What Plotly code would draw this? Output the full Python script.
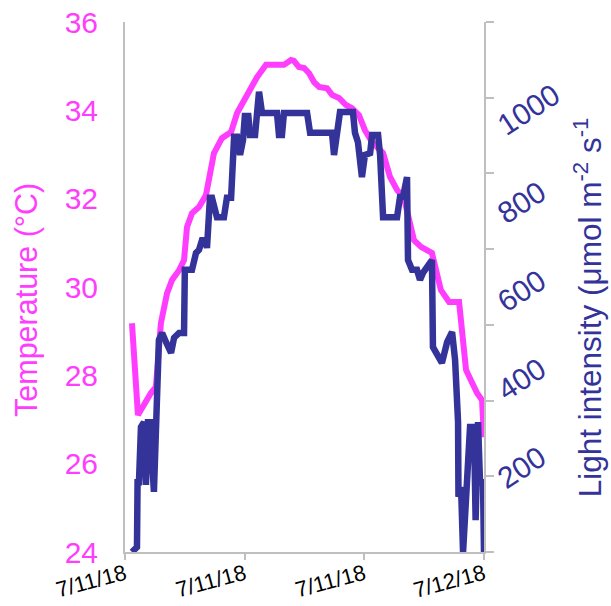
import plotly.graph_objects as go
from datetime import datetime, timedelta

# ---- data ----
x_tick_hours = [6, 12, 18, 24]
x_tick_labels = ["7/11/18", "7/11/18", "7/11/18", "7/12/18"]

temp_hours = [6.35, 6.65, 7.30, 7.55, 7.80, 8.11, 8.36, 8.71, 8.96, 9.11, 9.36, 9.71,
              10.06, 10.31, 10.46, 10.86, 11.32, 11.62, 11.97, 12.32, 12.62, 13.07,
              13.97, 14.32, 14.47, 14.72, 14.98, 15.23, 15.48, 15.73, 16.13, 16.38,
              16.73, 17.08, 17.38, 17.73, 18.03, 18.39, 18.94, 19.29, 19.64, 19.99,
              20.49, 20.84, 21.39, 21.84, 22.25, 22.75, 23.10, 23.65, 23.90, 24.00]
temp_c = [29.18, 27.10, 27.60, 27.74, 29.18, 29.86, 30.16, 30.38, 30.61, 31.36, 31.67, 31.81,
          32.08, 32.58, 33.03, 33.37, 33.51, 33.94, 34.23, 34.57, 34.75, 35.03,
          35.03, 35.14, 35.12, 34.98, 34.96, 34.84, 34.64, 34.53, 34.50, 34.35,
          34.28, 34.12, 34.05, 33.89, 33.55, 33.28, 33.03, 32.49, 32.20, 32.01,
          31.06, 30.91, 30.77, 29.93, 29.66, 29.66, 28.12, 27.60, 27.44, 26.60]

light_hours = [6.35, 6.60, 6.63, 6.70, 6.80, 6.95, 7.05, 7.15, 7.25, 7.45, 7.70, 7.86,
               8.06, 8.31, 8.46, 8.71, 8.96, 9.00, 9.36, 9.56, 9.71, 9.86, 10.06, 10.11,
               10.26, 10.36, 10.61, 10.96, 11.11, 11.32, 11.47, 11.62, 11.77, 11.92,
               12.02, 12.10, 12.17, 12.27, 12.52, 12.72, 12.87, 13.62, 13.72, 13.87,
               13.97, 15.13, 15.28, 16.38, 16.48, 16.63, 16.78, 17.43, 17.53, 17.68,
               17.88, 18.03, 18.29, 18.39, 18.69, 18.79, 18.94, 19.64, 19.79, 19.94,
               20.14, 20.19, 20.39, 20.64, 20.79, 20.94, 21.39, 21.44, 21.64, 21.89,
               22.15, 22.40, 22.55, 22.70, 22.72, 22.85, 22.95, 23.15, 23.30, 23.50,
               23.58, 23.70, 23.80, 23.95, 24.00]
light_umol = [0, 11, 158, 158, 283, 294, 152, 294, 294, 136, 480, 496,
              475, 451, 485, 496, 496, 639, 639, 677, 684, 706, 706, 688,
              802, 802, 758, 758, 802, 802, 940, 940, 899, 933,
              994, 944, 994, 944, 944, 1042, 994, 994, 944, 944,
              994, 994, 949, 949, 899, 949, 996, 996, 949, 928,
              849, 899, 903, 944, 944, 899, 758, 758, 804, 804,
              849, 661, 639, 639, 616, 632, 661, 464, 446, 428,
              475, 498, 435, 294, 125, 147, 0, 147, 283, 283,
              72, 294, 158, 158, 0]

temp_ticks = [24, 26, 28, 30, 32, 34, 36]
light_ticks = [200, 400, 600, 800, 1000]

# ---- figure ----
base = datetime(2018, 7, 11)


def to_time(hours):
    return [base + timedelta(hours=h) for h in hours]


MAGENTA = "#ff3dff"
NAVY = "#333399"
GRAY = "#bfbfbf"
FONT = "Liberation Sans, Arial, sans-serif"

fig = go.Figure()
fig.add_trace(go.Scatter(x=to_time(temp_hours), y=temp_c, mode="lines",
                         line=dict(color=MAGENTA, width=6), yaxis="y"))
fig.add_trace(go.Scatter(x=[], y=[], yaxis="y2", mode="lines", showlegend=False))
fig.add_trace(go.Scatter(x=to_time(light_hours), y=light_umol, mode="lines",
                         line=dict(color=NAVY, width=6.5), yaxis="y3"))

fig.update_layout(
    width=611, height=606,
    margin=dict(l=125, r=127, t=22, b=54, autoexpand=False),
    paper_bgcolor="white", plot_bgcolor="white",
    showlegend=False,
    font=dict(family=FONT),
    xaxis=dict(type="date", range=[base + timedelta(hours=6), base + timedelta(hours=24)],
               tickvals=to_time(x_tick_hours), ticktext=x_tick_labels, automargin=False,
               tickangle=-15, ticks="outside", ticklen=6, tickwidth=2, tickcolor=GRAY,
               showline=True, linecolor=GRAY, linewidth=2, showgrid=False, zeroline=False,
               tickfont=dict(size=22, color="black"), ticklabelstandoff=-7),
    yaxis=dict(range=[24, 36], tickvals=temp_ticks, ticks="", showline=True, automargin=False,
               linecolor=GRAY, linewidth=2, showgrid=False, zeroline=False,
               tickfont=dict(size=30, color=MAGENTA), ticklabelstandoff=19),
    yaxis2=dict(overlaying="y", side="right", range=[0, 1400], dtick=200, tick0=0,
                ticks="outside", ticklen=8, tickwidth=2, tickcolor=GRAY, automargin=False,
                showticklabels=False, showline=True, linecolor=GRAY, linewidth=2,
                showgrid=False, zeroline=False),
    yaxis3=dict(overlaying="y", side="right", range=[0, 1200], tickvals=light_ticks,
                ticks="", showline=False, showgrid=False, zeroline=False, automargin=False,
                tickangle=-33, tickfont=dict(size=30, color=NAVY),
                ticklabelstandoff=13, ticklabelshift=18),
    annotations=[
        dict(text="Temperature (°C)", textangle=-90, xref="paper", yref="paper",
             x=-0.273, y=0.4755, xanchor="center", yanchor="middle", showarrow=False,
             font=dict(size=30.5, color=MAGENTA)),
        dict(text="Light intensity (μmol m<sup>-2</sup> s<sup>-1</sup>", textangle=-90,
             xref="paper", yref="paper", x=1.29, y=0.462, xanchor="center",
             yanchor="middle", showarrow=False, font=dict(size=31.5, color=NAVY)),
    ],
)

fig.write_html("out.html", config={"displayModeBar": False},
               post_script="document.body.style.margin='0';")
